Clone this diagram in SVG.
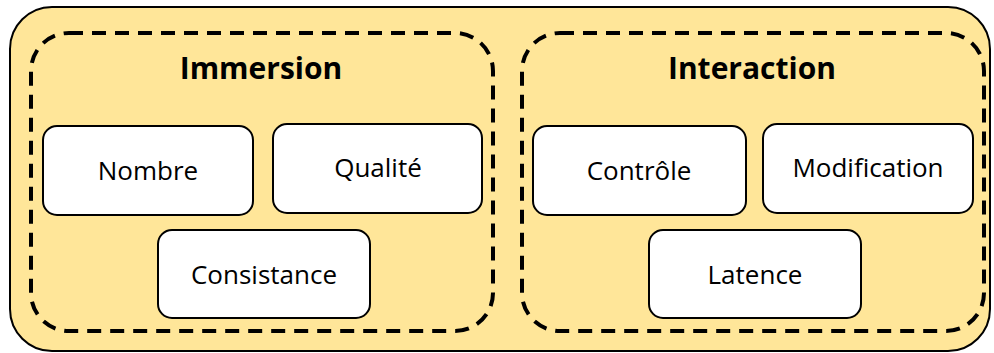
<svg xmlns="http://www.w3.org/2000/svg" width="994" height="353" viewBox="0 0 994 353">
<style>
.outer{fill:#FFE699;stroke:#000;stroke-width:2}
.group{fill:none;stroke:#000;stroke-width:4;stroke-dasharray:14 9}
.node{fill:#fff;stroke:#000;stroke-width:2}
.title{font-family:"Open Sans","Noto Sans",sans-serif;font-weight:bold;font-size:30px;text-anchor:middle;dominant-baseline:central;fill:#000}
.label{font-family:"Open Sans","Noto Sans",sans-serif;font-size:26px;text-anchor:middle;dominant-baseline:central;fill:#000}
</style>
<rect class="outer" x="10" y="7" width="980" height="344" rx="42"/>
<g id="immersion">
<rect class="group" x="31" y="33" width="462" height="298" rx="38"/>
<text class="title" x="261" y="67">Immersion</text>
</g>
<g id="interaction">
<rect class="group" x="522" y="33" width="462" height="298" rx="38"/>
<text class="title" x="752" y="67">Interaction</text>
</g>
<g id="nombre"><rect class="node" x="43" y="126" width="210" height="89" rx="14"/><text class="label" x="148" y="170">Nombre</text></g>
<g id="qualite"><rect class="node" x="273" y="124" width="209" height="89" rx="14"/><text class="label" x="378" y="167">Qualité</text></g>
<g id="consistance"><rect class="node" x="158" y="230" width="212" height="88" rx="14"/><text class="label" x="264" y="274">Consistance</text></g>
<g id="controle"><rect class="node" x="533" y="126" width="213" height="89" rx="14"/><text class="label" x="639" y="170">Contrôle</text></g>
<g id="modification"><rect class="node" x="763" y="124" width="210" height="89" rx="14"/><text class="label" x="868" y="167">Modification</text></g>
<g id="latence"><rect class="node" x="649" y="230" width="212" height="88" rx="14"/><text class="label" x="755" y="274">Latence</text></g>
<g id="connectors"/>
</svg>
